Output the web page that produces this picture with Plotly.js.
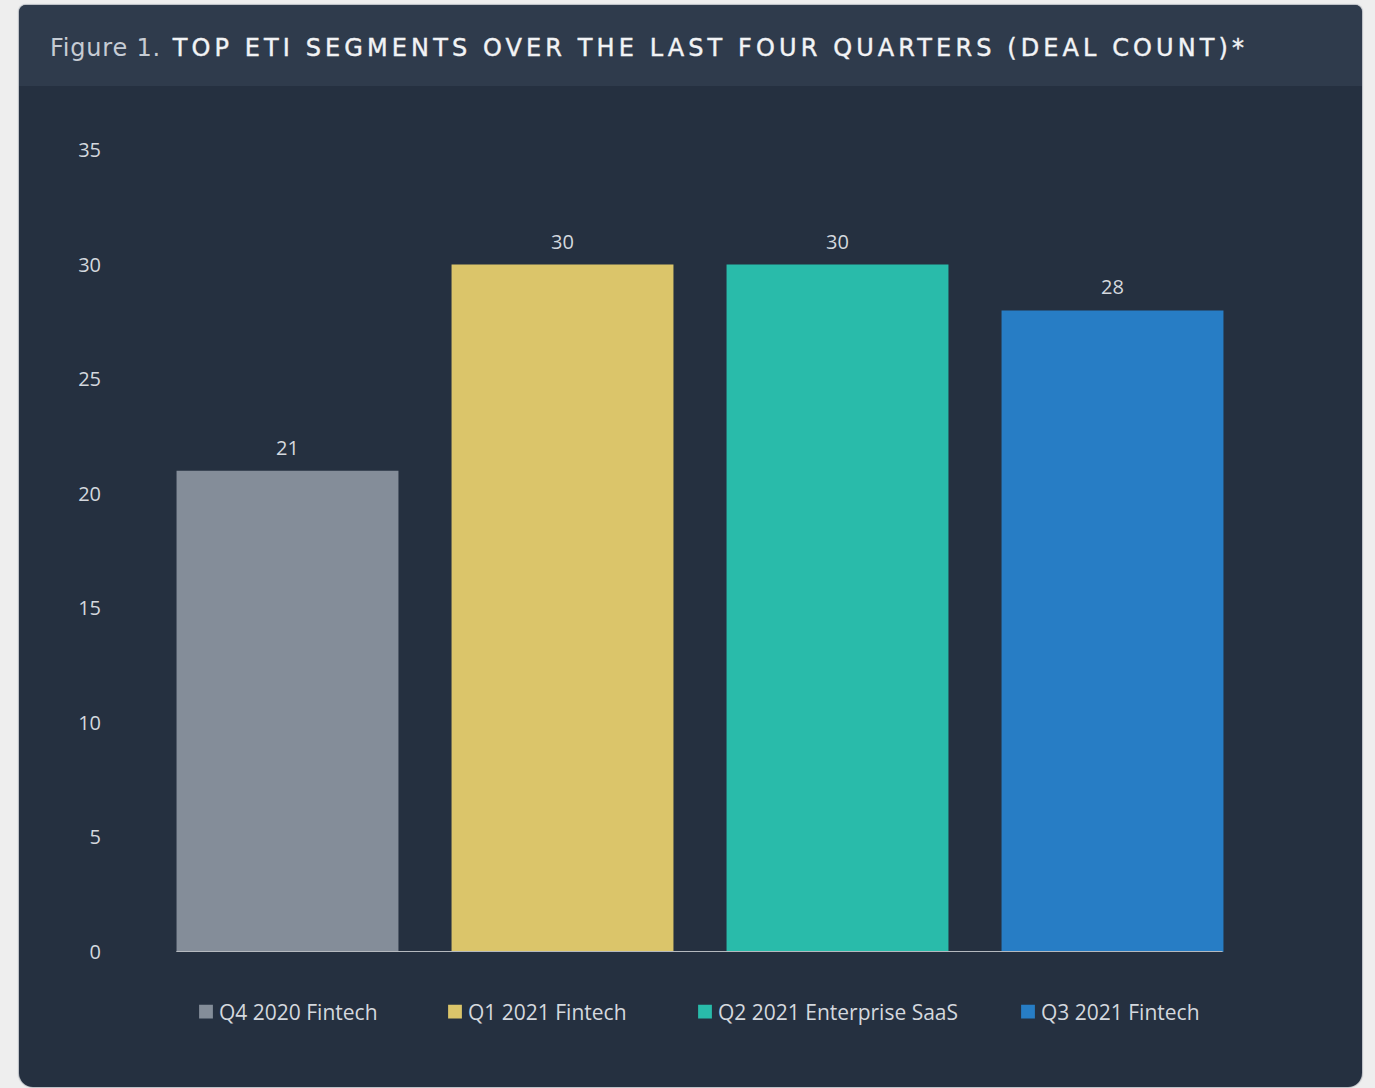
<!DOCTYPE html>
<html>
<head>
<meta charset="utf-8">
<script src="https://cdn.plot.ly/plotly-3.0.1.min.js"></script>
<style>
  html, body { margin: 0; padding: 0; background: #eeeeee; width: 1375px; height: 1088px; overflow: hidden; }
  #card { position: absolute; left: 19px; top: 5px; width: 1343px; height: 1082px; background: #253040;
          border-radius: 7px 7px 14px 14px; box-shadow: 0 0 1px 1px #b8bcc2; overflow: hidden; }
  #band { position: absolute; left: 0; top: 0; width: 100%; height: 81px; background: #2f3b4c; }
  #chart { position: absolute; left: 0; top: 0; width: 1375px; height: 1088px; }
  #chart .legendpoints path { transform: translate(27px, 0px) scale(1.15); }
  #chart .gtitle { stroke: #f2f3f5; stroke-width: 0.4px; }
</style>
</head>
<body>
<div id="card"><div id="band"></div></div>
<div id="chart"></div>
<script>
const categories = ["Q4 2020 Fintech", "Q1 2021 Fintech", "Q2 2021 Enterprise SaaS", "Q3 2021 Fintech"];
const dealCounts = [21, 30, 30, 28];
const barColors = ["#848d99", "#dbc56a", "#29bbaa", "#277dc5"];
const yTicks = [0, 5, 10, 15, 20, 25, 30, 35];
const legendTextX = [219, 468, 718, 1041];

const traces = categories.map((c, i) => ({
  type: "bar",
  x: [i],
  y: [dealCounts[i]],
  name: c,
  marker: { color: barColors[i] },
  width: 0.807,
  legend: i === 0 ? "legend" : "legend" + (i + 1),
  hoverinfo: "y"
}));

const labelFont = { family: "Open Sans, sans-serif", size: 20, color: "#d4d8de" };

const annotations = categories.map((c, i) => ({
  x: i, y: dealCounts[i], xref: "x", yref: "y",
  text: String(dealCounts[i]), showarrow: false,
  yanchor: "bottom", yshift: 8,
  font: labelFont
}));

const legendBase = {
  orientation: "h", xref: "container", yref: "container",
  yanchor: "middle", xanchor: "left", y: 1 - 1012 / 1088,
  bgcolor: "rgba(0,0,0,0)", borderwidth: 0,
  font: { family: "Open Sans, sans-serif", size: 21, color: "#d4d8de" },
  itemwidth: 30
};
const layout = {
  width: 1375, height: 1088,
  paper_bgcolor: "rgba(0,0,0,0)", plot_bgcolor: "rgba(0,0,0,0)",
  margin: { l: 149.5, r: 125, t: 150, b: 136 },
  title: {
    text: '<span style="font-size:24px;color:#c6ccd4;letter-spacing:0.8px;stroke:none">Figure 1.</span><span style="letter-spacing:4.1px"> TOP ETI SEGMENTS OVER THE LAST FOUR QUARTERS (DEAL COUNT)*</span>',
    xref: "container", yref: "container", x: 50 / 1375, xanchor: "left",
    y: 1 - 48 / 1088, yanchor: "middle",
    font: { family: "DejaVu Sans, sans-serif", size: 24, color: "#f2f3f5" }
  },
  xaxis: { range: [-0.5, 3.5], showticklabels: false, showgrid: false, zeroline: false, showline: false, ticks: "" },
  yaxis: {
    range: [0, 35], tickvals: yTicks, ticktext: yTicks.map(String),
    showgrid: false, zeroline: false, showline: false, ticks: "",
    ticklabelstandoff: 48,
    tickfont: labelFont
  },
  shapes: [{ type: "line", xref: "x", yref: "y", x0: -0.404, x1: 3.4, y0: 0, y1: 0,
             line: { color: "#b5b9bf", width: 2 } }],
  annotations: annotations,
  showlegend: true,
  bargap: 0.19
};
legendTextX.forEach((tx, i) => {
  const key = i === 0 ? "legend" : "legend" + (i + 1);
  layout[key] = Object.assign({}, legendBase, { x: (tx - 40) / 1375 });
});

Plotly.newPlot("chart", traces, layout, { displayModeBar: false, staticPlot: true });
</script>
</body>
</html>
